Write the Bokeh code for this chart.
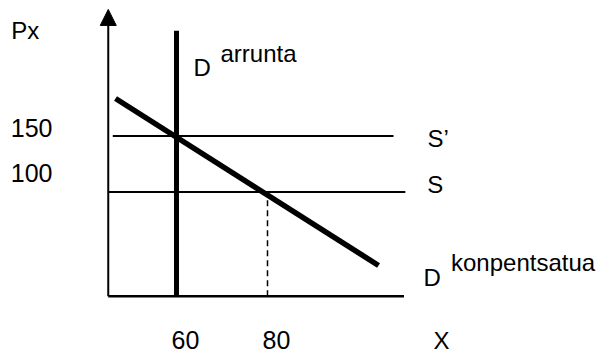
from bokeh.plotting import figure
from bokeh.models import Range1d, Arrow, NormalHead
from bokeh.core.properties import value
from bokeh.embed import file_html
from bokeh.resources import INLINE

# ---- data (chart units: quantity X, price Px) ----
quantities = [60, 80]            # tick labels under the X axis
quantity_labels = ["60", "80"]
prices = [100, 150]              # tick labels beside the Px axis
price_labels = ["100", "150"]

axis_origin = (45, 7)            # where the two axes meet (schematic)
x_axis_end = 110
y_axis_top = 263

d_arrunta_x = [60, 60]           # perfectly inelastic ordinary demand
d_arrunta_y = [7, 244]

d_konp_x = [46.6, 104.4]         # compensated demand
d_konp_y = [183.5, 34.4]

s_prime_x = [46, 107.7]          # S' supply at 150
s_prime_y = [150, 150]
s_x = [45, 110.3]                # S supply at 100
s_y = [100, 100]

guide_x = [80, 80]               # dashed guide down to 80
guide_y = [7, 100]

# ---- layout ----
W, H = 598, 355
SX, SY = 4.55, 1.12              # pixels per unit
x_start = 60 - 176 / SX
x_end = x_start + W / SX
y_end = 150 + 135.5 / SY
y_start = y_end - H / SY

FONT = "Liberation Sans"
FS = "24px"
FS_NUM = "25px"
TEXT_SHIFT = -10                 # baseline correction (px, up)

p = figure(width=W, height=H, output_backend="svg", toolbar_location=None,
           x_range=Range1d(x_start, x_end), y_range=Range1d(y_start, y_end),
           x_axis_type=None, y_axis_type=None, min_border=0)
p.grid.visible = False
p.outline_line_color = None
p.background_fill_color = "white"
p.border_fill_color = "white"

x0, y0 = axis_origin

# axes
p.line([x0, x_axis_end], [y0, y0], line_color="black", line_width=2.5)
p.add_layout(Arrow(x_start=x0, y_start=y0, x_end=x0, y_end=y_axis_top,
                   line_color="black", line_width=2,
                   end=NormalHead(size=16, fill_color="black", line_color="black", line_width=1)))

# supply lines
p.line(s_prime_x, s_prime_y, line_color="black", line_width=2)
p.line(s_x, s_y, line_color="black", line_width=2)

# demand lines
p.line(d_arrunta_x, d_arrunta_y, line_color="black", line_width=5)
p.line(d_konp_x, d_konp_y, line_color="black", line_width=5.5)

# dashed guide
p.line(guide_x, guide_y, line_color="black", line_width=1.5, line_dash="6 4")


def label(txt, ax, ay, dx, dy, size=FS):
    dy = dy + TEXT_SHIFT
    p.text(x=[ax + dx / SX], y=[ay - dy / SY], text=[txt],
           text_font=value(FONT), text_font_size=size,
           text_baseline="alphabetic", text_align="left", text_color="black")


# axis titles
label("Px", x0, y_axis_top, -97, 31)
label("X", x_axis_end, y0, 29.5, 54.3)

# tick labels
for q, t in zip(quantities, quantity_labels):
    label(t, q, y0, -5, 54.3, FS_NUM)
for pr, t, dy in zip(prices, price_labels, [-9.5, 1.5]):
    label(t, x0, pr, -97.5, dy, FS_NUM)

# curve labels
label("S\u2019", s_prime_x[1], s_prime_y[1], 34, 12.5)
label("S", s_x[1], s_y[1], 22, 2.5)
label("D", d_arrunta_x[1], d_arrunta_y[1], 17, 47)
label("arrunta", d_arrunta_x[1], d_arrunta_y[1], 44, 33)
label("D", d_konp_x[1], d_konp_y[1], 45, 22)
label("konpentsatua", d_konp_x[1], d_konp_y[1], 72.5, 7)

open("out.html", "w").write(file_html(p, INLINE))
